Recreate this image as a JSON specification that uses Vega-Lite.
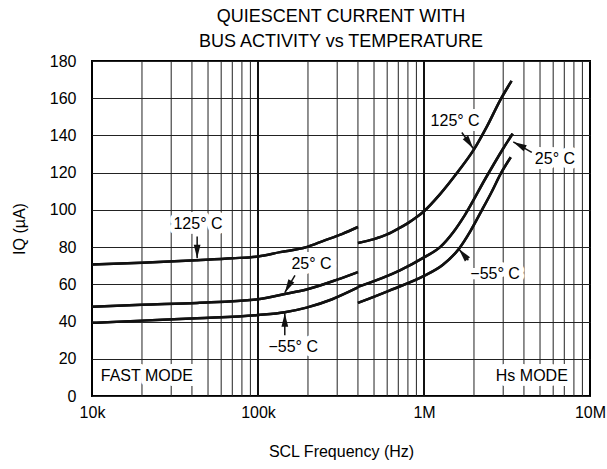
{
  "$schema": "https://vega.github.io/schema/vega-lite/v6.json",
  "autosize": "none",
  "width": 498,
  "height": 335,
  "padding": {"left": 92, "top": 61, "right": 17, "bottom": 73},
  "background": "white",
  "config": {
    "font": "Liberation Sans",
    "view": {"stroke": "black", "strokeWidth": 2},
    "title": {"font": "Liberation Sans", "fontSize": 18, "fontWeight": "normal", "color": "black", "lineHeight": 25},
    "axis": {"labelFont": "Liberation Sans", "titleFont": "Liberation Sans", "labelColor": "black", "titleColor": "black", "labelFontSize": 16, "titleFontSize": 16, "titleFontWeight": "normal", "domain": false, "ticks": false, "labelOverlap": false}
  },
  "title": {"text": ["QUIESCENT CURRENT WITH", "BUS ACTIVITY vs TEMPERATURE"], "anchor": "middle", "offset": 2},
  "datasets": {
    "curves": [
      {"series": "125 fast", "f": 10000, "iq": 70.7},
      {"series": "125 fast", "f": 20000, "iq": 71.6},
      {"series": "125 fast", "f": 43000, "iq": 73},
      {"series": "125 fast", "f": 70000, "iq": 74},
      {"series": "125 fast", "f": 100000, "iq": 75},
      {"series": "125 fast", "f": 136000, "iq": 77.3},
      {"series": "125 fast", "f": 196000, "iq": 80},
      {"series": "125 fast", "f": 250000, "iq": 83.5},
      {"series": "125 fast", "f": 320000, "iq": 87},
      {"series": "125 fast", "f": 400000, "iq": 90.8},
      {"series": "25 fast", "f": 10000, "iq": 47.9},
      {"series": "25 fast", "f": 20000, "iq": 49},
      {"series": "25 fast", "f": 43000, "iq": 50},
      {"series": "25 fast", "f": 100000, "iq": 52},
      {"series": "25 fast", "f": 145000, "iq": 54.8},
      {"series": "25 fast", "f": 196000, "iq": 57.2},
      {"series": "25 fast", "f": 300000, "iq": 62.5},
      {"series": "25 fast", "f": 400000, "iq": 66.6},
      {"series": "-55 fast", "f": 10000, "iq": 39.3},
      {"series": "-55 fast", "f": 20000, "iq": 40.5},
      {"series": "-55 fast", "f": 43000, "iq": 41.8},
      {"series": "-55 fast", "f": 100000, "iq": 43.5},
      {"series": "-55 fast", "f": 145000, "iq": 45},
      {"series": "-55 fast", "f": 196000, "iq": 47.5},
      {"series": "-55 fast", "f": 280000, "iq": 52},
      {"series": "-55 fast", "f": 400000, "iq": 58.3},
      {"series": "125 hs", "f": 400000, "iq": 82.2},
      {"series": "125 hs", "f": 500000, "iq": 84.3},
      {"series": "125 hs", "f": 600000, "iq": 86.8},
      {"series": "125 hs", "f": 700000, "iq": 89.9},
      {"series": "125 hs", "f": 800000, "iq": 92.9},
      {"series": "125 hs", "f": 900000, "iq": 96},
      {"series": "125 hs", "f": 1000000, "iq": 99.3},
      {"series": "125 hs", "f": 1250000, "iq": 108.5},
      {"series": "125 hs", "f": 1600000, "iq": 120.5},
      {"series": "125 hs", "f": 2000000, "iq": 132.5},
      {"series": "125 hs", "f": 2400000, "iq": 145},
      {"series": "125 hs", "f": 2880000, "iq": 159},
      {"series": "125 hs", "f": 3370000, "iq": 169.3},
      {"series": "25 hs", "f": 400000, "iq": 58.6},
      {"series": "25 hs", "f": 716000, "iq": 67.5},
      {"series": "25 hs", "f": 1000000, "iq": 74.5},
      {"series": "25 hs", "f": 1250000, "iq": 80},
      {"series": "25 hs", "f": 1500000, "iq": 88},
      {"series": "25 hs", "f": 1770000, "iq": 97.5},
      {"series": "25 hs", "f": 2350000, "iq": 117},
      {"series": "25 hs", "f": 3000000, "iq": 133},
      {"series": "25 hs", "f": 3420000, "iq": 141},
      {"series": "-55 hs", "f": 400000, "iq": 50},
      {"series": "-55 hs", "f": 624000, "iq": 56.8},
      {"series": "-55 hs", "f": 1000000, "iq": 64.5},
      {"series": "-55 hs", "f": 1300000, "iq": 70.5},
      {"series": "-55 hs", "f": 1620000, "iq": 79},
      {"series": "-55 hs", "f": 1900000, "iq": 88.5},
      {"series": "-55 hs", "f": 2220000, "iq": 99.5},
      {"series": "-55 hs", "f": 2550000, "iq": 109.5},
      {"series": "-55 hs", "f": 2900000, "iq": 119.5},
      {"series": "-55 hs", "f": 3330000, "iq": 128.3}
    ],
    "minorGrid": [
      {"f": 20000}, {"f": 30000}, {"f": 40000}, {"f": 50000}, {"f": 60000}, {"f": 70000}, {"f": 80000}, {"f": 90000},
      {"f": 200000}, {"f": 300000}, {"f": 400000}, {"f": 500000}, {"f": 600000}, {"f": 700000}, {"f": 800000}, {"f": 900000},
      {"f": 2000000}, {"f": 3000000}, {"f": 4000000}, {"f": 5000000}, {"f": 6000000}, {"f": 7000000}, {"f": 8000000}, {"f": 9000000}
    ],
    "majorGrid": [{"f": 100000}, {"f": 1000000}],
    "labels": [
      {"label": "125° C", "f": 43500, "iq": 92.2},
      {"label": "25° C", "f": 210000, "iq": 71.1},
      {"label": "−55° C", "f": 163000, "iq": 26.4},
      {"label": "125° C", "f": 1540000, "iq": 147.9},
      {"label": "25° C", "f": 6150000, "iq": 127.4},
      {"label": "−55° C", "f": 2680000, "iq": 65.8}
    ],
    "modes": [
      {"label": "FAST MODE", "f": 11300, "iq": 10.7, "side": "left"},
      {"label": "Hs MODE", "f": 7350000, "iq": 10.7, "side": "right"}
    ],
    "arrows": [
      {"id": 1, "f1": 43000, "iq1": 85.7, "f2": 43000, "iq2": 74, "angle": 180},
      {"id": 2, "f1": 167000, "iq1": 64.8, "f2": 145000, "iq2": 55.5, "angle": 209},
      {"id": 3, "f1": 145000, "iq1": 32.7, "f2": 145000, "iq2": 44.5, "angle": 0},
      {"id": 4, "f1": 1690000, "iq1": 141.6, "f2": 1980000, "iq2": 133, "angle": 145},
      {"id": 5, "f1": 4460000, "iq1": 130.9, "f2": 3450000, "iq2": 136.5, "angle": 298},
      {"id": 6, "f1": 1850000, "iq1": 72.9, "f2": 1620000, "iq2": 79, "angle": 320}
    ]
  },
  "layer": [
    {
      "data": {"name": "curves"},
      "mark": {"type": "line", "color": "#111", "strokeWidth": 2.5, "interpolate": "monotone"},
      "encoding": {
        "x": {"field": "f", "type": "quantitative", "scale": {"type": "log", "domain": [10000, 10000000], "nice": false},
          "axis": {"values": [10000, 100000, 1000000, 10000000], "labelExpr": "datum.value == 10000 ? '10k' : datum.value == 100000 ? '100k' : datum.value == 1000000 ? '1M' : '10M'", "grid": false, "labelPadding": 8, "title": "SCL Frequency (Hz)", "titlePadding": 23, "labelFlush": false}},
        "y": {"field": "iq", "type": "quantitative", "scale": {"domain": [0, 180], "nice": false},
          "axis": {"tickCount": 9, "grid": true, "gridColor": "#222", "gridWidth": 1, "gridOpacity": 1, "labelPadding": 16, "title": "IQ (µA)", "titlePadding": 22, "labelFlush": false}},
        "detail": {"field": "series"}
      }
    },
    {
      "data": {"name": "minorGrid"},
      "mark": {"type": "rule", "color": "#222", "strokeWidth": 1},
      "encoding": {"x": {"field": "f", "type": "quantitative"}}
    },
    {
      "data": {"name": "majorGrid"},
      "mark": {"type": "rule", "color": "#111", "strokeWidth": 2},
      "encoding": {"x": {"field": "f", "type": "quantitative"}}
    },
    {
      "data": {"name": "curves"},
      "mark": {"type": "line", "color": "#111", "strokeWidth": 2.5, "interpolate": "monotone"},
      "encoding": {
        "x": {"field": "f", "type": "quantitative"},
        "y": {"field": "iq", "type": "quantitative"},
        "detail": {"field": "series"}
      }
    },
    {
      "data": {"name": "labels"},
      "mark": {"type": "text", "fontSize": 16, "fill": "white", "stroke": "white", "strokeWidth": 10, "strokeJoin": "round", "align": "center", "baseline": "middle"},
      "encoding": {
        "x": {"field": "f", "type": "quantitative"},
        "y": {"field": "iq", "type": "quantitative"},
        "text": {"field": "label"}
      }
    },
    {
      "data": {"name": "modes"},
      "transform": [{"filter": "datum.side == 'left'"}],
      "mark": {"type": "text", "fontSize": 16, "fill": "white", "stroke": "white", "strokeWidth": 10, "strokeJoin": "round", "align": "left", "baseline": "middle"},
      "encoding": {
        "x": {"field": "f", "type": "quantitative"},
        "y": {"field": "iq", "type": "quantitative"},
        "text": {"field": "label"}
      }
    },
    {
      "data": {"name": "modes"},
      "transform": [{"filter": "datum.side == 'right'"}],
      "mark": {"type": "text", "fontSize": 16, "fill": "white", "stroke": "white", "strokeWidth": 10, "strokeJoin": "round", "align": "right", "baseline": "middle"},
      "encoding": {
        "x": {"field": "f", "type": "quantitative"},
        "y": {"field": "iq", "type": "quantitative"},
        "text": {"field": "label"}
      }
    },
    {
      "data": {"name": "arrows"},
      "mark": {"type": "rule", "color": "#111", "strokeWidth": 1.5},
      "encoding": {
        "x": {"field": "f1", "type": "quantitative"},
        "y": {"field": "iq1", "type": "quantitative"},
        "x2": {"field": "f2"},
        "y2": {"field": "iq2"}
      }
    },
    {
      "data": {"name": "arrows"},
      "mark": {"type": "point", "filled": true, "color": "#111", "opacity": 1, "size": 81, "shape": "M0,0L0.75,3L-0.75,3Z"},
      "encoding": {
        "x": {"field": "f2", "type": "quantitative"},
        "y": {"field": "iq2", "type": "quantitative"},
        "angle": {"field": "angle", "type": "quantitative", "scale": null}
      }
    },
    {
      "data": {"name": "labels"},
      "mark": {"type": "text", "fontSize": 16, "color": "black", "align": "center", "baseline": "middle"},
      "encoding": {
        "x": {"field": "f", "type": "quantitative"},
        "y": {"field": "iq", "type": "quantitative"},
        "text": {"field": "label"}
      }
    },
    {
      "data": {"name": "modes"},
      "transform": [{"filter": "datum.side == 'left'"}],
      "mark": {"type": "text", "fontSize": 16, "color": "black", "align": "left", "baseline": "middle"},
      "encoding": {
        "x": {"field": "f", "type": "quantitative"},
        "y": {"field": "iq", "type": "quantitative"},
        "text": {"field": "label"}
      }
    },
    {
      "data": {"name": "modes"},
      "transform": [{"filter": "datum.side == 'right'"}],
      "mark": {"type": "text", "fontSize": 16, "color": "black", "align": "right", "baseline": "middle"},
      "encoding": {
        "x": {"field": "f", "type": "quantitative"},
        "y": {"field": "iq", "type": "quantitative"},
        "text": {"field": "label"}
      }
    }
  ]
}
